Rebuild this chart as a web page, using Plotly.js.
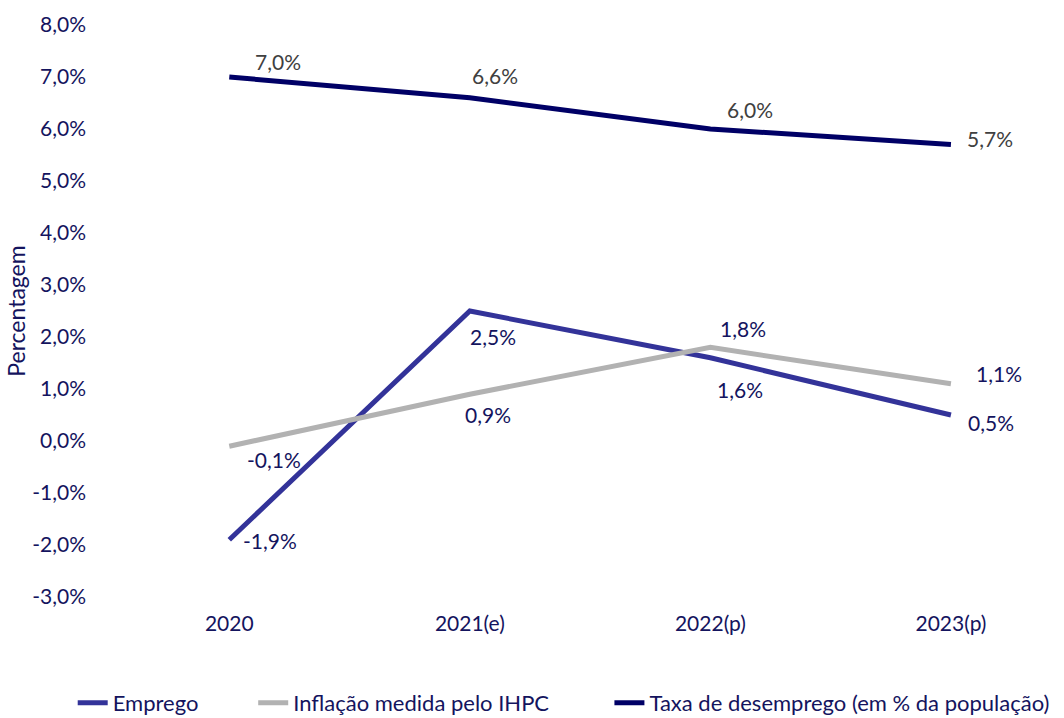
<!DOCTYPE html>
<html>
<head>
<meta charset="utf-8">
<script src="https://cdn.plot.ly/plotly-3.0.1.min.js"></script>
<style>html,body{margin:0;padding:0;background:#fff;}#chart{width:1064px;height:718px;}</style>
</head>
<body>
<div id="chart"></div>
<script>
const categories = ['2020', '2021(e)', '2022(p)', '2023(p)'];
const emprego = [-1.9, 2.5, 1.6, 0.5];
const inflacao = [-0.1, 0.9, 1.8, 1.1];
const desemprego = [7.0, 6.6, 6.0, 5.7];
const seriesNames = ['Emprego', 'Inflação medida pelo IHPC', 'Taxa de desemprego (em % da população)'];
const yTickValues = [-3, -2, -1, 0, 1, 2, 3, 4, 5, 6, 7, 8];
const yTitle = 'Percentagem';

const colors = ['#333399', '#b2b2b2', '#000066'];
const labelColors = ['#14145e', '#14145e', '#404040'];
const shifts = [
  [[41,-1],[23,-25],[30,-32],[40,-7]],
  [[45,-13],[18,-20],[33,19],[48,10]],
  [[49,16],[25,22],[40,20],[39,6]]
];
const legendX = [-0.038, 0.151, 0.524];
const allSeries = [emprego, inflacao, desemprego];
const font = 'Lato, "Open Sans", sans-serif';
const navy = '#14145e';

const fmt = v => v.toFixed(1).replace('.', ',') + '%';

const legendKeys = ['legend', 'legend2', 'legend3'];
const traces = allSeries.map((vals, i) => ({
  type: 'scatter', mode: 'lines', x: categories, y: vals, name: seriesNames[i],
  legend: legendKeys[i],
  line: {color: colors[i], width: 5}, hoverinfo: 'skip'
}));

const annotations = [];
allSeries.forEach((vals, i) => {
  vals.forEach((v, j) => {
    annotations.push({
      x: j, y: v, xref: 'x', yref: 'y', text: fmt(v), showarrow: false,
      xshift: shifts[i][j][0], yshift: shifts[i][j][1],
      font: {family: font, size: 21, color: labelColors[i]}
    });
  });
});

const layout = {
  width: 1064, height: 718,
  margin: {l: 109, r: 0, t: 25, b: 121, autoexpand: false},
  paper_bgcolor: '#fff', plot_bgcolor: '#fff',
  font: {family: font, color: navy},
  showlegend: true,
  xaxis: {type: 'category', range: [-0.5, 3.47], showgrid: false, zeroline: false, showline: false,
    automargin: false,
    ticks: '', ticklabelstandoff: 12, tickfont: {family: font, size: 21, color: navy}},
  yaxis: {range: [-3, 8], tickvals: yTickValues, ticktext: yTickValues.map(fmt),
    showgrid: false, zeroline: false, showline: false, automargin: false,
    ticks: '', ticklabelstandoff: 22,
    tickfont: {family: font, size: 21, color: navy},
    title: {text: yTitle, standoff: 0, font: {family: font, size: 23, color: navy}}},
  annotations: annotations
};
legendKeys.forEach((k, i) => {
  layout[k] = {orientation: 'h', x: legendX[i], xanchor: 'left', y: -0.1853, yanchor: 'middle',
    bgcolor: 'rgba(0,0,0,0)', font: {family: font, size: 22, color: navy}};
});

Plotly.newPlot('chart', traces, layout, {displayModeBar: false, staticPlot: true});
</script>
</body>
</html>
